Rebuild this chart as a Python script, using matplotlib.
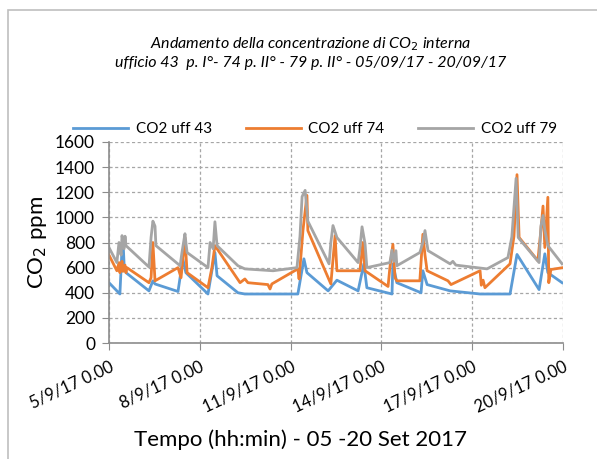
import numpy as np
import pandas as pd
import matplotlib
matplotlib.use("Agg")
from matplotlib import pyplot as plt
from matplotlib.patches import Rectangle

plt.rcParams['font.family'] = ['Lato', 'DejaVu Sans']

# start of the measurement campaign
t0 = pd.Timestamp("2017-09-05 00:00")

# office 43 - days from start, ppm
days_43 = [0.00, 0.36, 0.42, 0.46, 0.50, 0.56, 1.32, 1.45, 1.52, 2.28, 2.44, 2.54,
           3.27, 3.50, 3.57, 4.26, 4.49, 6.24, 6.44, 6.54, 7.24, 7.53, 8.23, 8.42,
           8.52, 9.35, 9.38, 9.51, 10.31, 10.37, 10.51, 11.27, 12.26, 13.25, 13.48,
           14.21, 14.40, 14.50, 14.97]
co2_43 = [480, 390, 700, 830, 620, 560, 415, 495, 470, 410, 670, 560,
          390, 720, 535, 400, 390, 390, 670, 560, 415, 500, 415, 630,
          440, 390, 630, 480, 400, 575, 465, 415, 390, 390, 705,
          425, 710, 560, 480]

# office 74
days_74 = [0.00, 0.26, 0.33, 0.36, 0.43, 0.46, 0.53, 0.56, 0.59, 1.32, 1.39, 1.45,
           1.52, 2.28, 2.38, 2.51, 2.58, 3.27, 3.40, 3.50, 4.33, 4.49, 4.59, 5.25,
           5.32, 5.38, 6.24, 6.28, 6.41, 6.54, 6.57, 7.24, 7.33, 7.47, 7.53, 8.29,
           8.39, 8.46, 9.22, 9.28, 9.38, 9.45, 9.51, 10.27, 10.37, 10.44, 10.51,
           11.20, 11.30, 12.26, 12.30, 12.36, 12.42, 13.25, 13.38, 13.48, 13.55,
           14.17, 14.27, 14.34, 14.40, 14.50, 14.53, 14.60, 15.00]
co2_74 = [700, 575, 640, 560, 650, 570, 620, 560, 600, 480, 520, 800,
          495, 600, 520, 840, 560, 440, 600, 775, 480, 510, 480, 465,
          430, 470, 590, 510, 900, 1175, 895, 520, 470, 855, 575, 575,
          800, 575, 450, 600, 785, 520, 495, 495, 865, 700, 575,
          495, 465, 575, 460, 500, 440, 630, 850, 1340, 840,
          655, 900, 1090, 760, 1160, 480, 585, 600]

# office 79
days_79 = [0.00, 0.26, 0.33, 0.40, 0.43, 0.50, 0.53, 0.56, 1.32, 1.39, 1.45, 1.52,
           1.55, 2.35, 2.41, 2.51, 2.54, 2.58, 3.27, 3.34, 3.44, 3.50, 3.57, 4.26,
           4.49, 5.42, 6.21, 6.31, 6.38, 6.48, 6.57, 7.27, 7.33, 7.40, 7.53, 8.23,
           8.29, 8.36, 8.46, 8.52, 9.28, 9.35, 9.41, 9.48, 9.51, 10.27, 10.37,
           10.44, 10.54, 11.27, 11.36, 11.46, 12.49, 13.18, 13.31, 13.45, 13.52,
           14.21, 14.27, 14.34, 14.40, 14.50, 14.97]
co2_79 = [760, 640, 800, 700, 855, 750, 850, 775, 605, 840, 970, 930,
          775, 615, 720, 870, 800, 720, 600, 800, 750, 965, 775, 615,
          590, 575, 600, 850, 1165, 1215, 970, 630, 800, 935, 840, 640,
          750, 925, 790, 600, 640, 740, 650, 735, 615, 720, 800,
          895, 735, 630, 650, 620, 590, 680, 845, 1310, 840,
          640, 930, 1015, 900, 775, 630]

tick_days = [0, 3, 6, 9, 12, 15]
tick_labels = ["5/9/17 0.00", "8/9/17 0.00", "11/9/17 0.00",
               "14/9/17 0.00", "17/9/17 0.00", "20/9/17 0.00"]
names = ["CO2 uff 43", "CO2 uff 74", "CO2 uff 79"]
colors = ["#5B9BD5", "#ED7D31", "#A5A5A5"]


def to_time(d):
    return t0 + pd.to_timedelta(np.array(d), unit="D")


fig = plt.figure(figsize=(5.97, 4.59), dpi=100)
# chart area frame (only left and top edges fall inside the picture)
fig.patches.append(Rectangle((8 / 597, -0.1), 1.2, 1.1 - 10 / 459,
                             transform=fig.transFigure, fill=False,
                             edgecolor="#BFBFBF", lw=1.2))
ax = fig.add_axes([109 / 597, 1 - 343 / 459, (563 - 109) / 597, (343 - 142) / 459])

series = [(days_43, co2_43), (days_74, co2_74), (days_79, co2_79)]
for (d, v), name, c in zip(series, names, colors):
    ax.plot(to_time(d), v, color=c, lw=2.0, label=name, solid_joinstyle="round")

ax.set_xlim(to_time([0])[0], to_time([15])[0])
ax.set_ylim(0, 1600)
ax.set_yticks(range(0, 1601, 200))
ax.set_xticks(to_time(tick_days))
ax.set_xticklabels(tick_labels, rotation=25, ha="right", rotation_mode="anchor")
ax.tick_params(axis="x", labelsize=12, length=5, color="#8C8C8C", pad=6)
ax.tick_params(axis="y", labelsize=12.5, length=5, color="#8C8C8C", pad=5)
ax.grid(True, color="#A6A6A6", ls=(0, (2.5, 2)), lw=0.9)
for s in ["top", "right"]:
    ax.spines[s].set_visible(False)
for s in ["left", "bottom"]:
    ax.spines[s].set_color("#8C8C8C")
    ax.spines[s].set_linewidth(1.2)

ax.set_ylabel("CO$_2$ ppm", fontsize=16, labelpad=4)
fig.text(300 / 597, 1 - 440 / 459, "Tempo (hh:min) - 05 -20 Set 2017",
         ha="center", va="center", fontsize=16)

fig.text(311 / 597, 1 - 44 / 459, "Andamento della concentrazione di CO$_2$ interna",
         ha="center", va="center", fontsize=11.5, style="italic")
fig.text(311 / 597, 1 - 63 / 459,
         "ufficio 43  p. I°- 74 p. II° - 79 p. II° - 05/09/17 - 20/09/17",
         ha="center", va="center", fontsize=11.5, style="italic")

fig.legend(loc="center", bbox_to_anchor=(315 / 597, 1 - 129 / 459), ncol=3,
           frameon=False, fontsize=11, handlelength=3.6, columnspacing=2.2,
           handletextpad=0.5)

plt.savefig("out.png", dpi=100)
